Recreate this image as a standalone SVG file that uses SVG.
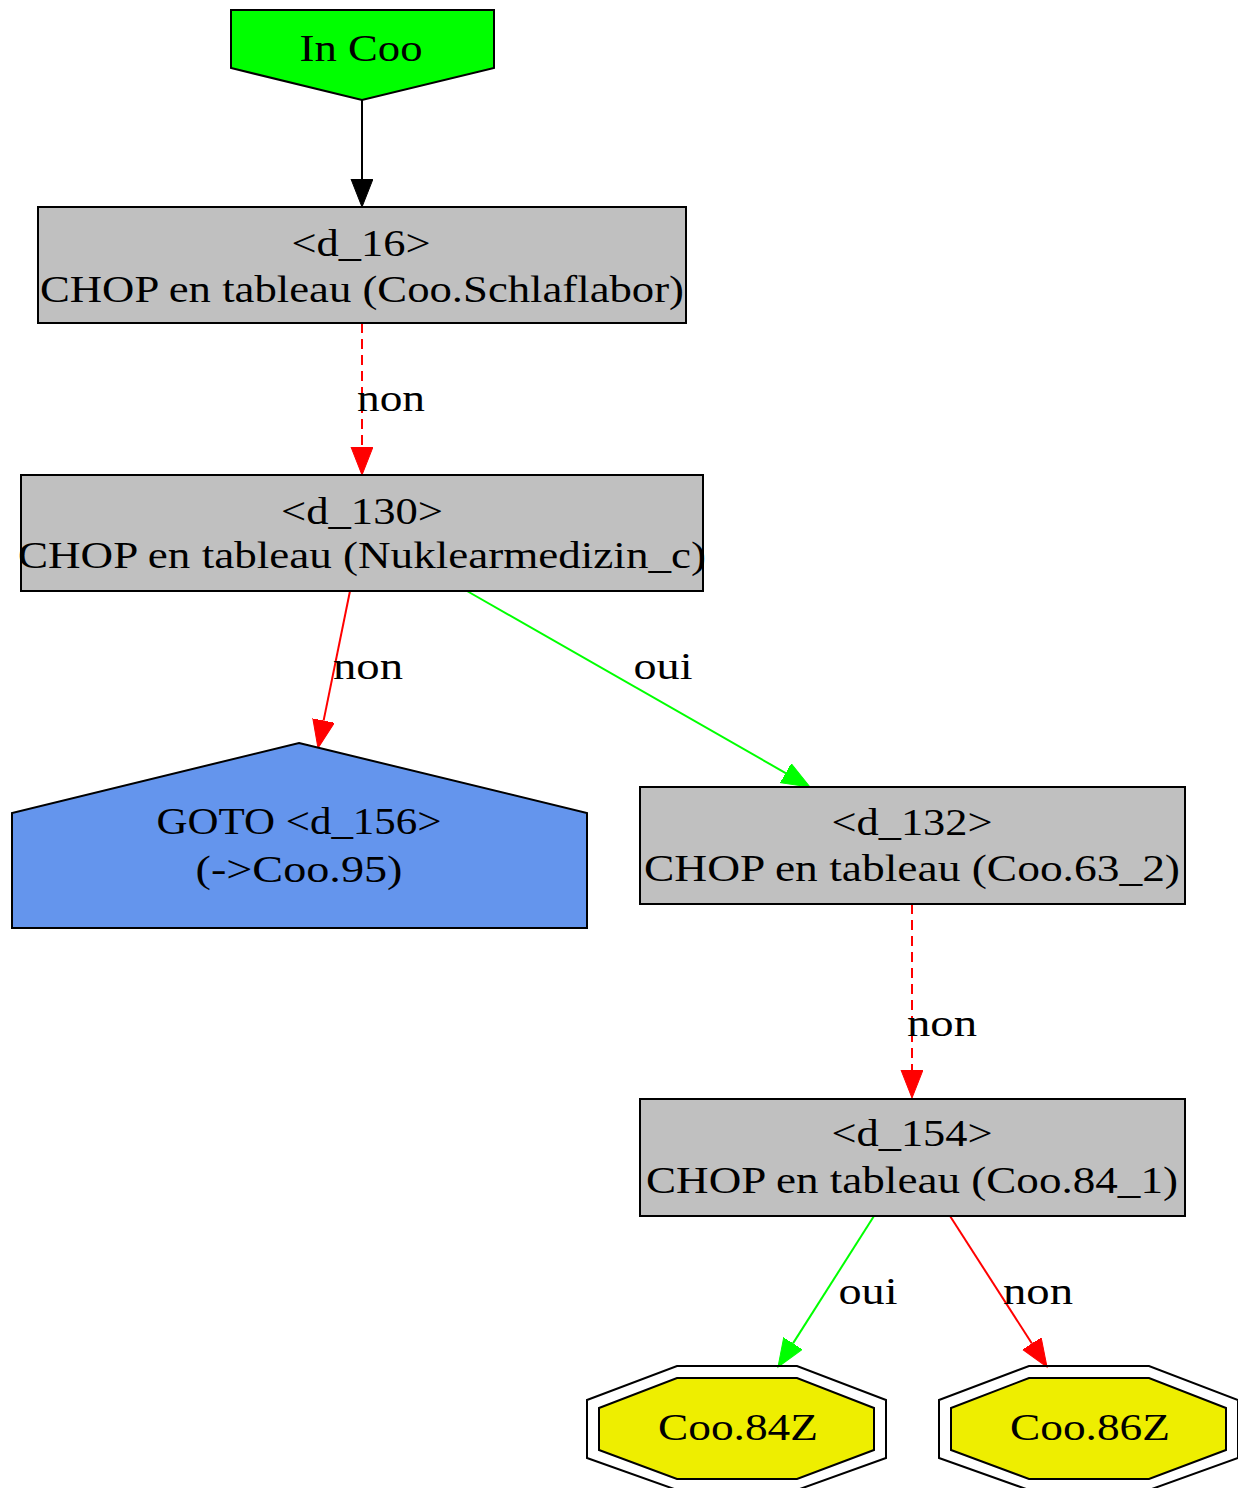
<svg xmlns="http://www.w3.org/2000/svg" width="1238" height="1488" viewBox="0 0 1238 1488">
<style>
.t{font-family:"Liberation Serif","Times New Roman",serif;font-size:38px;text-anchor:middle;fill:#000}
.n{stroke:#000;stroke-width:2}
.box{fill:#c0c0c0}
.e{fill:none;stroke-width:2}
.blk{stroke:#000}
.red{stroke:#ff0000}
.grn{stroke:#00ff00}
.dash{stroke-dasharray:10,6}
</style>
<defs>
<marker id="ab" markerUnits="userSpaceOnUse" markerWidth="30" markerHeight="24" refX="0" refY="11" orient="auto"><path d="M0,0 L28,11 L0,22 Z" fill="#000" stroke="#000"/></marker>
<marker id="ar" markerUnits="userSpaceOnUse" markerWidth="30" markerHeight="24" refX="0" refY="11" orient="auto"><path d="M0,0 L28,11 L0,22 Z" fill="#ff0000" stroke="#ff0000"/></marker>
<marker id="ag" markerUnits="userSpaceOnUse" markerWidth="30" markerHeight="24" refX="0" refY="11" orient="auto"><path d="M0,0 L28,11 L0,22 Z" fill="#00ff00" stroke="#00ff00"/></marker>
</defs>
<rect width="1238" height="1488" fill="#fff"/>
<g id="edges">
<path class="e blk" d="M362,100 L362,179" marker-end="url(#ab)"/>
<path class="e red dash" d="M362,323 L362,447" marker-end="url(#ar)"/>
<text class="t" x="391" y="411" textLength="68" lengthAdjust="spacingAndGlyphs">non</text>
<path class="e red" d="M350,591 L323.6,720.6" marker-end="url(#ar)"/>
<text class="t" x="368" y="679" textLength="70" lengthAdjust="spacingAndGlyphs">non</text>
<path class="e grn" d="M467,591 L785.7,773.1" marker-end="url(#ag)"/>
<text class="t" x="663" y="679" textLength="59" lengthAdjust="spacingAndGlyphs">oui</text>
<path class="e red dash" d="M912,904 L912,1070" marker-end="url(#ar)"/>
<text class="t" x="942" y="1036" textLength="70" lengthAdjust="spacingAndGlyphs">non</text>
<path class="e grn" d="M874,1216 L793,1343.4" marker-end="url(#ag)"/>
<text class="t" x="868" y="1304" textLength="59" lengthAdjust="spacingAndGlyphs">oui</text>
<path class="e red" d="M950,1216 L1031.9,1343.5" marker-end="url(#ar)"/>
<text class="t" x="1038" y="1304" textLength="70" lengthAdjust="spacingAndGlyphs">non</text>
</g>
<g id="in_coo">
<polygon class="n" fill="#00ff00" points="231,10 494,10 494,68 362,100 231,68"/>
<text class="t" x="361" y="61" textLength="123" lengthAdjust="spacingAndGlyphs">In Coo</text>
</g>
<g id="d_16">
<rect class="n box" x="38" y="207" width="648" height="116"/>
<text class="t" x="361" y="256" textLength="139" lengthAdjust="spacingAndGlyphs">&lt;d_16&gt;</text>
<text class="t" x="362" y="302" textLength="644" lengthAdjust="spacingAndGlyphs">CHOP en tableau (Coo.Schlaflabor)</text>
</g>
<g id="d_130">
<rect class="n box" x="21" y="475" width="682" height="116"/>
<text class="t" x="362" y="524" textLength="162" lengthAdjust="spacingAndGlyphs">&lt;d_130&gt;</text>
<text class="t" x="362" y="568" textLength="688" lengthAdjust="spacingAndGlyphs">CHOP en tableau (Nuklearmedizin_c)</text>
</g>
<g id="goto_d_156">
<polygon class="n" fill="#6495ed" points="299,743 587,813 587,928 12,928 12,813"/>
<text class="t" x="299" y="834" textLength="285" lengthAdjust="spacingAndGlyphs">GOTO &lt;d_156&gt;</text>
<text class="t" x="299" y="882" textLength="207" lengthAdjust="spacingAndGlyphs">(-&gt;Coo.95)</text>
</g>
<g id="d_132">
<rect class="n box" x="640" y="787" width="545" height="117"/>
<text class="t" x="912" y="835" textLength="161" lengthAdjust="spacingAndGlyphs">&lt;d_132&gt;</text>
<text class="t" x="912" y="881" textLength="536" lengthAdjust="spacingAndGlyphs">CHOP en tableau (Coo.63_2)</text>
</g>
<g id="d_154">
<rect class="n box" x="640" y="1099" width="545" height="117"/>
<text class="t" x="912" y="1146" textLength="161" lengthAdjust="spacingAndGlyphs">&lt;d_154&gt;</text>
<text class="t" x="912" y="1193" textLength="532" lengthAdjust="spacingAndGlyphs">CHOP en tableau (Coo.84_1)</text>
</g>
<g id="coo_84z">
<polygon class="n" fill="none" points="587,1400 677,1366 797,1366 886,1400 886,1458 797,1490 677,1490 587,1458"/>
<polygon class="n" fill="#eeee00" points="599,1408 677,1378 797,1378 874,1408 874,1450 797,1479 677,1479 599,1450"/>
<text class="t" x="738" y="1440" textLength="160" lengthAdjust="spacingAndGlyphs">Coo.84Z</text>
</g>
<g id="coo_86z">
<polygon class="n" fill="none" points="939,1400 1029,1366 1149,1366 1238,1400 1238,1458 1149,1490 1029,1490 939,1458"/>
<polygon class="n" fill="#eeee00" points="951,1408 1029,1378 1149,1378 1226,1408 1226,1450 1149,1479 1029,1479 951,1450"/>
<text class="t" x="1090" y="1440" textLength="160" lengthAdjust="spacingAndGlyphs">Coo.86Z</text>
</g>
</svg>
